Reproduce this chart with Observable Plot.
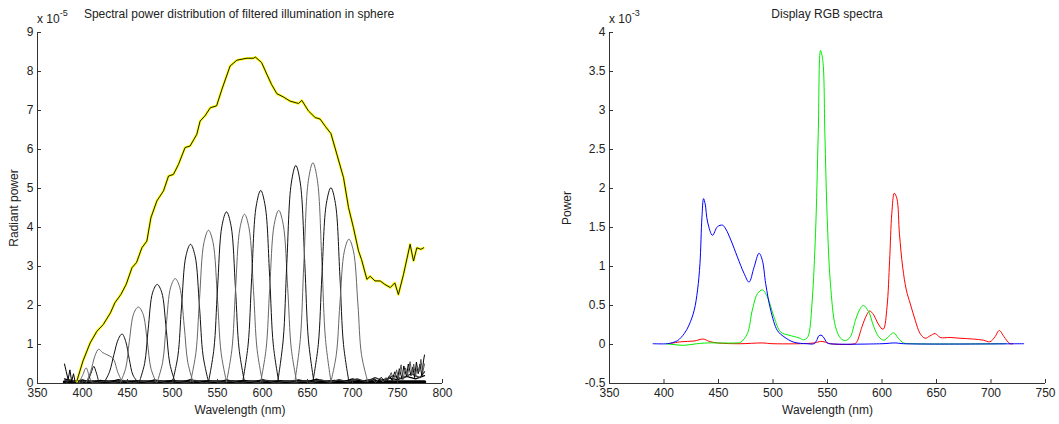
<!DOCTYPE html>
<html><head><meta charset="utf-8">
<script src="https://cdn.jsdelivr.net/npm/d3@7"></script>
<script src="https://cdn.jsdelivr.net/npm/@observablehq/plot@0.6"></script>
<style>
body{margin:0;background:#fff;font-family:"Liberation Sans",Arial,sans-serif;}
#wrap{position:relative;width:1059px;height:424px;overflow:hidden;background:#fff;}
.panel{position:absolute;top:0;}
.lbl{position:absolute;font-size:12px;color:#222;white-space:nowrap;line-height:1;}
.lbl sup{font-size:9px;position:relative;top:-2px;}
</style></head><body><div id="wrap"></div><script>
// ---------- Left panel data (units of 1e-5) ----------
const leftXDomain = [350, 800];
const leftYDomain = [0, 9];
const leftXTicks = [350, 400, 450, 500, 550, 600, 650, 700, 750, 800];
const leftYTicks = [0, 1, 2, 3, 4, 5, 6, 7, 8, 9];
const sumCurve = [[393.7,0.06],[400.4,0.57],[408.5,1.04],[416,1.34],[423,1.51],[431,1.81],[436,2.07],[442.6,2.28],[448.5,2.54],[455,2.97],[460,3.10],[466,3.48],[471.5,3.65],[476,4.25],[482.6,4.68],[490,4.94],[495.6,5.32],[501,5.36],[506.7,5.62],[514,6.05],[519.6,6.09],[527,6.39],[530.7,6.73],[536,6.86],[542,7.07],[549,7.12],[555,7.55],[564,8.14],[571.5,8.29],[582.6,8.34],[590,8.34],[592,8.37],[599,8.23],[604.8,7.93],[610,7.67],[616,7.43],[623,7.35],[630.7,7.24],[640,7.18],[643.7,7.26],[651,6.99],[658.5,6.82],[664,6.78],[669.6,6.60],[676,6.41],[682.6,5.88],[690,5.28],[695.6,4.51],[701,4.00],[706.7,3.40],[710,3.18],[716,2.67],[719.6,2.75],[725,2.63],[730.7,2.63],[736,2.54],[742,2.46],[747,2.58],[751,2.28],[756.7,2.80],[764,3.57],[767.8,3.14],[771.5,3.48],[776,3.44],[779,3.48]];
const filterCurves = [
  [[396,0.02],[400,0.2],[404,0.40],[408,0.15],[411,0.02]],
  [[406,0.05],[410,0.3],[412.5,0.44],[415,0.3],[418,0.05]],
  [[404,0.02],[409,0.3],[414,0.72],[418,0.88],[422,0.8],[427,0.74],[432,0.68],[435,0.6],[439,0.3],[444,0.04]],
  [[424,0.02],[430,0.3],[435,0.75],[440,1.15],[444,1.27],[448,1.08],[452,0.62],[456,0.22],[462,0.02]],
  [[442,0.02],[448,0.39],[452,1.08],[457,1.80],[462,1.96],[467,1.80],[472,1.08],[476,0.39],[482,0.02]],
  [[463,0.03],[469,0.51],[473,1.40],[478,2.34],[483,2.54],[488,2.34],[493,1.40],[497,0.51],[503,0.03]],
  [[483,0.03],[489,0.54],[493,1.48],[498,2.47],[503,2.69],[508,2.47],[513,1.48],[517,0.54],[523,0.03]],
  [[500,0.04],[506,0.71],[510,1.96],[515,3.28],[520,3.57],[525,3.28],[530,1.96],[534,0.71],[540,0.04]],
  [[520,0.04],[526,0.79],[530,2.16],[535,3.62],[540,3.93],[545,3.62],[550,2.16],[554,0.79],[560,0.04]],
  [[540,0.04],[546,0.88],[550,2.42],[555,4.05],[560,4.40],[565,4.05],[570,2.42],[574,0.88],[580,0.04]],
  [[560,0.04],[566,0.87],[570,2.39],[575,3.99],[580,4.34],[585,3.99],[590,2.39],[594,0.87],[600,0.04]],
  [[578,0.05],[584,0.99],[588,2.72],[593,4.55],[598,4.95],[603,4.55],[608,2.72],[612,0.99],[618,0.05]],
  [[598,0.04],[604,0.89],[608,2.44],[613,4.08],[618,4.44],[623,4.08],[628,2.44],[632,0.89],[638,0.04]],
  [[617,0.06],[623,1.12],[627,3.07],[632,5.14],[637,5.59],[642,5.14],[647,3.07],[651,1.12],[657,0.06]],
  [[636,0.06],[642,1.13],[646,3.11],[651,5.21],[656,5.66],[661,5.21],[666,3.11],[670,1.13],[676,0.06]],
  [[656,0.05],[662,1.00],[666,2.76],[671,4.62],[676,5.02],[681,4.62],[686,2.76],[690,1.00],[696,0.05]],
  [[676,0.04],[682,0.74],[686,2.04],[691,3.40],[696,3.70],[701,3.40],[706,2.04],[710,0.74],[717,0.04]]
];
const noiseA = [[380,0.12],[390,0.05],[400,0.09],[410,0.03],[420,0.08],[430,0.04],[440,0.1],[450,0.03],[460,0.07],[470,0.02],[480,0.09],[490,0.04],[500,0.08],[510,0.03],[520,0.1],[530,0.04],[540,0.07],[550,0.02],[560,0.09],[570,0.04],[580,0.08],[590,0.03],[600,0.1],[610,0.04],[620,0.07],[630,0.03],[640,0.09],[650,0.05],[660,0.11],[670,0.04],[680,0.08],[690,0.05],[700,0.12],[710,0.06],[720,0.1],[730,0.07],[740,0.14],[750,0.1],[760,0.18],[770,0.12],[780,0.2]];
const noiseB = [[382,0.02],[385,0.1],[395,0.02],[405,0.07],[415,0.02],[425,0.06],[435,0.02],[445,0.08],[455,0.01],[465,0.06],[475,0.02],[485,0.07],[495,0.01],[505,0.06],[515,0.02],[525,0.08],[535,0.01],[545,0.06],[555,0.03],[565,0.07],[575,0.01],[585,0.06],[595,0.02],[605,0.08],[615,0.01],[625,0.06],[635,0.03],[645,0.07],[655,0.02],[665,0.09],[675,0.03],[685,0.1],[695,0.04],[705,0.12],[715,0.05],[725,0.15],[735,0.06],[745,0.2],[755,0.12],[765,0.25],[775,0.15],[780,0.3]];
const noiseTail1 = [[720,0.04],[724,0.12],[728,0.05],[732,0.16],[735,0.06],[738,0.05],[741,0.2],[744,0.08],[747,0.3],[750,0.1],[752,0.38],[755,0.12],[757,0.45],[760,0.18],[762,0.5],[765,0.2],[767,0.42],[769,0.15],[771,0.55],[773,0.25],[775,0.5],[777,0.2],[779,0.6],[780,0.73]];
const noiseTail2 = [[722,0.1],[726,0.03],[730,0.13],[734,0.04],[737,0.15],[740,0.1],[743,0.28],[746,0.06],[749,0.35],[751,0.12],[754,0.48],[756,0.1],[759,0.4],[761,0.2],[764,0.56],[766,0.22],[768,0.5],[770,0.18],[772,0.45],[774,0.3],[776,0.62],[778,0.28],[780,0.5]];
const noiseHead = [[380,0.5],[382,0.3],[384,0.1],[386,0.35],[388,0.05],[390,0.25],[392,0.02],[394,0.1],[396,0.0]];
const floorBand = [[380,0.04],[780,0.04]];

// ---------- Right panel data (units of 1e-3) ----------
const rightXDomain = [350, 750];
const rightYDomain = [-0.5, 4];
const rightXTicks = [350, 400, 450, 500, 550, 600, 650, 700, 750];
const rightYTicks = [-0.5, 0, 0.5, 1, 1.5, 2, 2.5, 3, 3.5, 4];
const blueSpd = [[390,0.01],[403,0.01],[408,0.025],[412.5,0.05],[418.6,0.14],[423,0.25],[427.7,0.44],[430.8,0.70],[433,1.04],[434.8,1.63],[436.3,1.87],[437.8,1.80],[440,1.57],[444.5,1.40],[449,1.51],[453.7,1.53],[456.7,1.48],[461.3,1.34],[467.4,1.12],[473.5,0.91],[478,0.80],[482.6,0.99],[487.2,1.17],[490.2,1.08],[493.3,0.78],[497.9,0.44],[504,0.18],[510,0.10],[519,0.03],[531,0.01],[537.5,0.01],[540,0.05],[542,0.11],[544,0.12],[546,0.10],[549.7,0.02],[552,0.01],[600,0.01],[612,0.02],[620,0.01],[730,0.01]];
const greenSpd = [[402,0.01],[418.6,-0.01],[430,0.01],[440,0.02],[465,0.02],[470.4,0.03],[476.5,0.14],[481,0.44],[485.7,0.65],[490.2,0.70],[494.8,0.61],[501,0.35],[507,0.16],[514.6,0.12],[523.8,0.085],[528,0.06],[531,0.08],[533,0.14],[536,0.57],[539,1.42],[541.5,2.70],[543.6,3.77],[545.7,3.64],[547.6,2.70],[549.7,1.63],[552.7,0.78],[557.3,0.23],[562,0.08],[566.5,0.05],[571,0.10],[575.6,0.31],[580,0.46],[583,0.50],[587.8,0.42],[592.4,0.23],[597,0.10],[601.5,0.055],[606,0.10],[610.7,0.15],[615,0.08],[619.8,0.02],[628,0.01],[713,0.01]];
const redSpd = [[405,0.01],[415.5,0.035],[427.7,0.045],[436,0.07],[441.5,0.04],[449,0.02],[470,0.01],[490,0.02],[500,0.01],[538,0.02],[543.6,0.04],[548,0.03],[552.7,0.01],[575,0.01],[577,0.035],[581.7,0.23],[586,0.38],[588.7,0.43],[592.4,0.38],[595.5,0.29],[600,0.20],[601.5,0.20],[604.6,0.48],[607,1.08],[609,1.68],[611.3,1.94],[613.7,1.87],[616,1.42],[619,0.99],[622.3,0.70],[626,0.52],[630.5,0.31],[635,0.14],[639.6,0.08],[644,0.11],[648.8,0.14],[653.4,0.09],[662.5,0.09],[671.6,0.08],[683.8,0.07],[693,0.055],[699,0.035],[703.7,0.10],[707.6,0.18],[711.9,0.10],[717.4,0.01],[720,0.01]];

const titles = {left: "Spectral power distribution of filtered illumination in sphere", right: "Display RGB spectra"};

// ---------- Drawing ----------
const wrap = document.getElementById("wrap");
const X = d => d[0], Y = d => d[1];
const style = {fontFamily: "'Liberation Sans', Arial, sans-serif", fontSize: "12px", color: "#222", background: "white", overflow: "visible"};
const fmt = d => String(d);
const H = 424, MT = 32, MB = 41;

function axes(xd, yd, xt, yt, ylabel, plotW, yLabelOffset) {
  const plotH = H - MT - MB;
  return [
    Plot.axisX({ticks: xt, tickSize: 0, tickPadding: 5, tickFormat: fmt, label: "Wavelength (nm)", labelAnchor: "center", labelArrow: "none", labelOffset: 30}),
    Plot.axisY({ticks: yt, tickSize: 0, tickPadding: 4, tickFormat: fmt, label: ylabel, labelAnchor: "center", labelArrow: "none", labelOffset: yLabelOffset}),
    Plot.tickX(xt, {x: d => d, insetTop: plotH - 4, stroke: "#333"}),
    Plot.tickY(yt, {y: d => d, insetRight: plotW - 4, stroke: "#333"}),
    Plot.ruleX([xd[0]], {stroke: "#333"}),
    Plot.ruleY([yd[0]], {stroke: "#333"})
  ];
}

const leftPlot = Plot.plot({
  width: 530, height: H,
  marginLeft: 37, marginRight: 88, marginTop: MT, marginBottom: MB,
  style,
  x: {domain: leftXDomain},
  y: {domain: leftYDomain},
  marks: [
    Plot.line(floorBand, {x: X, y: Y, stroke: "#000", strokeWidth: 3.5}),
    Plot.line(noiseA, {x: X, y: Y, stroke: "#000", strokeWidth: 1.3}),
    Plot.line(noiseB, {x: X, y: Y, stroke: "#333", strokeWidth: 1.3}),
    Plot.line(noiseHead, {x: X, y: Y, stroke: "#000", strokeWidth: 1}),
    Plot.line(noiseTail1, {x: X, y: Y, stroke: "#000", strokeWidth: 1}),
    Plot.line(noiseTail2, {x: X, y: Y, stroke: "#555", strokeWidth: 1}),
    ...filterCurves.map((c, i) => Plot.line(c, {x: X, y: Y, stroke: i % 2 ? "#111" : "#666", strokeWidth: 1, curve: "catmull-rom"})),
    Plot.line(sumCurve, {x: X, y: Y, stroke: "#ffff00", strokeWidth: 2.6}),
    Plot.line(sumCurve, {x: X, y: Y, stroke: "#000", strokeWidth: 0.9}),
    ...axes(leftXDomain, leftYDomain, leftXTicks, leftYTicks, "Radiant power", 530 - 37 - 88, 28)
  ]
});
leftPlot.classList.add("panel");
leftPlot.style.left = "0px";
wrap.appendChild(leftPlot);

const rightPlot = Plot.plot({
  width: 529, height: H,
  marginLeft: 79, marginRight: 14, marginTop: MT, marginBottom: MB,
  style,
  x: {domain: rightXDomain},
  y: {domain: rightYDomain},
  marks: [
    Plot.line(redSpd, {x: X, y: Y, stroke: "#ff0000", strokeWidth: 1, curve: "catmull-rom"}),
    Plot.line(greenSpd, {x: X, y: Y, stroke: "#00ee00", strokeWidth: 1, curve: "catmull-rom"}),
    Plot.line(blueSpd, {x: X, y: Y, stroke: "#0000ff", strokeWidth: 1, curve: "catmull-rom"}),
    ...axes(rightXDomain, rightYDomain, rightXTicks, rightYTicks, "Power", 529 - 79 - 14, 47)
  ]
});
rightPlot.classList.add("panel");
rightPlot.style.left = "530px";
wrap.appendChild(rightPlot);

function label(html, left, top, center) {
  const d = document.createElement("div");
  d.className = "lbl";
  d.innerHTML = html;
  d.style.left = left + "px";
  d.style.top = top + "px";
  if (center) d.style.transform = "translateX(-50%)";
  wrap.appendChild(d);
}
label(titles.left, 239, 8, true);
label(titles.right, 827, 8, true);
label("x 10<sup>-5</sup>", 37, 11, false);
label("x 10<sup>-3</sup>", 609, 11, false);
</script></body></html>
